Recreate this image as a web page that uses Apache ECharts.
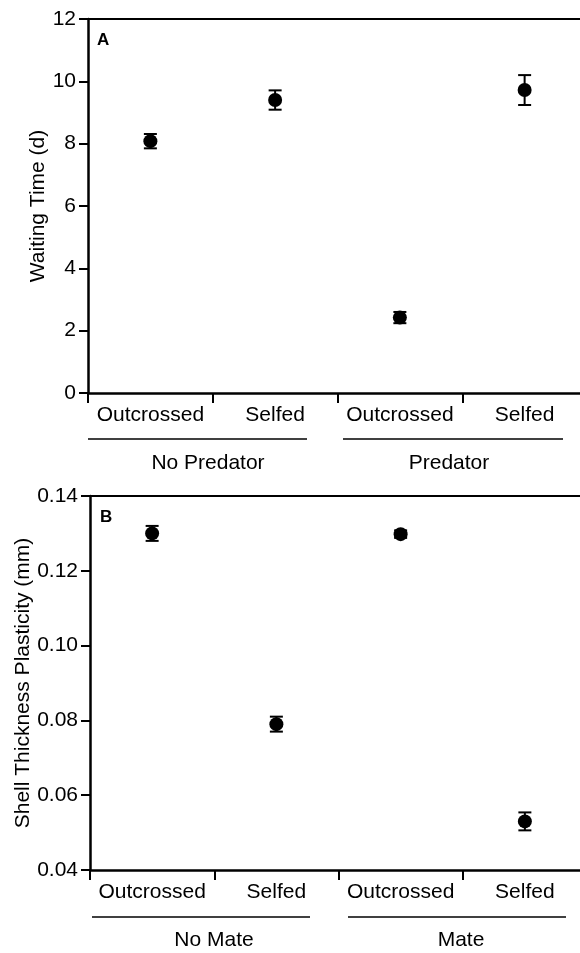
<!DOCTYPE html>
<html lang="en">
<head>
    <meta charset="UTF-8">
    <script src="https://cdn.jsdelivr.net/npm/echarts@6/dist/echarts.min.js"></script>
    <title>Waiting time and shell thickness</title>
    <style>
        body { margin: 0; background: #fff; }
    </style>
</head>
<body>
    <div id="main" style="width: 580px;height:953px;"></div>

    <script>
        // tick labels on the x axes
        var categories = ['Outcrossed', 'Selfed', 'Outcrossed', 'Selfed'];
        var groupsA = ['No Predator', 'Predator'];
        var groupsB = ['No Mate', 'Mate'];

        // panel A: waiting time (d), mean and error
        var waitMean = [8.08, 9.40, 2.42, 9.72];
        var waitErr = [0.23, 0.31, 0.18, 0.48];

        // panel B: shell thickness plasticity (mm), mean and error
        var shellMean = [0.130, 0.079, 0.1298, 0.053];
        var shellErr = [0.0020, 0.0020, 0.0010, 0.0024];

        var font = 'Liberation Sans, Arial, sans-serif';
        var fs = 21;

        function points(mean) {
            return mean.map(function (v, i) { return [i, v]; });
        }
        function bars(mean, err) {
            return mean.map(function (v, i) { return [i, v - err[i], v + err[i]]; });
        }

        function errorBar(params, api) {
            var lo = api.coord([api.value(0), api.value(1)]);
            var hi = api.coord([api.value(0), api.value(2)]);
            var w = 6.5;
            var style = { stroke: '#000', lineWidth: 2 };
            return {
                type: 'group',
                children: [
                    { type: 'line', shape: { x1: lo[0], y1: lo[1], x2: hi[0], y2: hi[1] }, style: style },
                    { type: 'line', shape: { x1: lo[0] - w, y1: lo[1], x2: lo[0] + w, y2: lo[1] }, style: style },
                    { type: 'line', shape: { x1: hi[0] - w, y1: hi[1], x2: hi[0] + w, y2: hi[1] }, style: style }
                ]
            };
        }

        function bottomAxis(grid) {
            return {
                type: 'category',
                gridIndex: grid,
                data: categories,
                position: 'bottom',
                boundaryGap: true,
                axisLine: { show: true, lineStyle: { color: '#000', width: 2.5 } },
                axisTick: { show: true, interval: 0, alignWithLabel: false, length: 10, lineStyle: { color: '#000', width: 2 } },
                axisLabel: { interval: 0, color: '#000', fontSize: fs, fontFamily: font, margin: 12 }
            };
        }
        function topAxis(grid) {
            return {
                type: 'category',
                gridIndex: grid,
                data: categories,
                position: 'top',
                axisLine: { show: true, lineStyle: { color: '#000', width: 2 } },
                axisTick: { show: false },
                axisLabel: { show: false }
            };
        }

        var myChart = echarts.init(document.getElementById('main'));

        var option = {
            backgroundColor: '#fff',
            animation: false,
            grid: [
                { left: 88, width: 499, top: 19, height: 374, outerBoundsMode: 'none', containLabel: false },
                { left: 90, width: 497, top: 496, height: 374, outerBoundsMode: 'none', containLabel: false }
            ],
            xAxis: [bottomAxis(0), topAxis(0), bottomAxis(1), topAxis(1)],
            yAxis: [
                {
                    type: 'value', gridIndex: 0, min: 0, max: 12, interval: 2,
                    name: 'Waiting Time (d)', nameLocation: 'middle', nameGap: 39, nameMoveOverlap: false,
                    nameTextStyle: { color: '#000', fontSize: fs, fontFamily: font },
                    splitLine: { show: false },
                    axisLine: { show: true, lineStyle: { color: '#000', width: 2.5 } },
                    axisTick: { show: true, length: 9, lineStyle: { color: '#000', width: 2 } },
                    axisLabel: { color: '#000', fontSize: fs, fontFamily: font, margin: 12 }
                },
                {
                    type: 'value', gridIndex: 1, min: 0.04, max: 0.14, interval: 0.02,
                    name: 'Shell Thickness Plasticity (mm)', nameLocation: 'middle', nameGap: 56, nameMoveOverlap: false,
                    nameTextStyle: { color: '#000', fontSize: fs, fontFamily: font },
                    splitLine: { show: false },
                    axisLine: { show: true, lineStyle: { color: '#000', width: 2.5 } },
                    axisTick: { show: true, length: 9, lineStyle: { color: '#000', width: 2 } },
                    axisLabel: {
                        color: '#000', fontSize: fs, fontFamily: font, margin: 12,
                        formatter: function (v) { return v.toFixed(2); }
                    }
                }
            ],
            series: [
                {
                    type: 'custom', xAxisIndex: 0, yAxisIndex: 0,
                    renderItem: errorBar, data: bars(waitMean, waitErr), z: 2
                },
                {
                    type: 'scatter', xAxisIndex: 0, yAxisIndex: 0,
                    data: points(waitMean), symbolSize: 14,
                    itemStyle: { color: '#000', opacity: 1 }, z: 3
                },
                {
                    type: 'custom', xAxisIndex: 2, yAxisIndex: 1,
                    renderItem: errorBar, data: bars(shellMean, shellErr), z: 2
                },
                {
                    type: 'scatter', xAxisIndex: 2, yAxisIndex: 1,
                    data: points(shellMean), symbolSize: 14,
                    itemStyle: { color: '#000', opacity: 1 }, z: 3
                }
            ],
            graphic: [
                // panel letters
                { type: 'text', left: 97, top: 32, style: { text: 'A', font: 'bold 17px ' + font, fill: '#000' } },
                { type: 'text', left: 100, top: 509, style: { text: 'B', font: 'bold 17px ' + font, fill: '#000' } },
                // group brackets under panel A
                { type: 'line', shape: { x1: 88, y1: 439, x2: 307, y2: 439 }, style: { stroke: '#000', lineWidth: 1.6 } },
                { type: 'line', shape: { x1: 343, y1: 439, x2: 563, y2: 439 }, style: { stroke: '#000', lineWidth: 1.6 } },
                { type: 'text', x: 208, y: 463, style: { text: groupsA[0], font: fs + 'px ' + font, fill: '#000', textAlign: 'center', textVerticalAlign: 'middle' } },
                { type: 'text', x: 449, y: 463, style: { text: groupsA[1], font: fs + 'px ' + font, fill: '#000', textAlign: 'center', textVerticalAlign: 'middle' } },
                // group brackets under panel B
                { type: 'line', shape: { x1: 92, y1: 917, x2: 310, y2: 917 }, style: { stroke: '#000', lineWidth: 1.6 } },
                { type: 'line', shape: { x1: 348, y1: 917, x2: 566, y2: 917 }, style: { stroke: '#000', lineWidth: 1.6 } },
                { type: 'text', x: 214, y: 940, style: { text: groupsB[0], font: fs + 'px ' + font, fill: '#000', textAlign: 'center', textVerticalAlign: 'middle' } },
                { type: 'text', x: 461, y: 940, style: { text: groupsB[1], font: fs + 'px ' + font, fill: '#000', textAlign: 'center', textVerticalAlign: 'middle' } }
            ]
        };

        myChart.setOption(option);
    </script>
</body>
</html>
